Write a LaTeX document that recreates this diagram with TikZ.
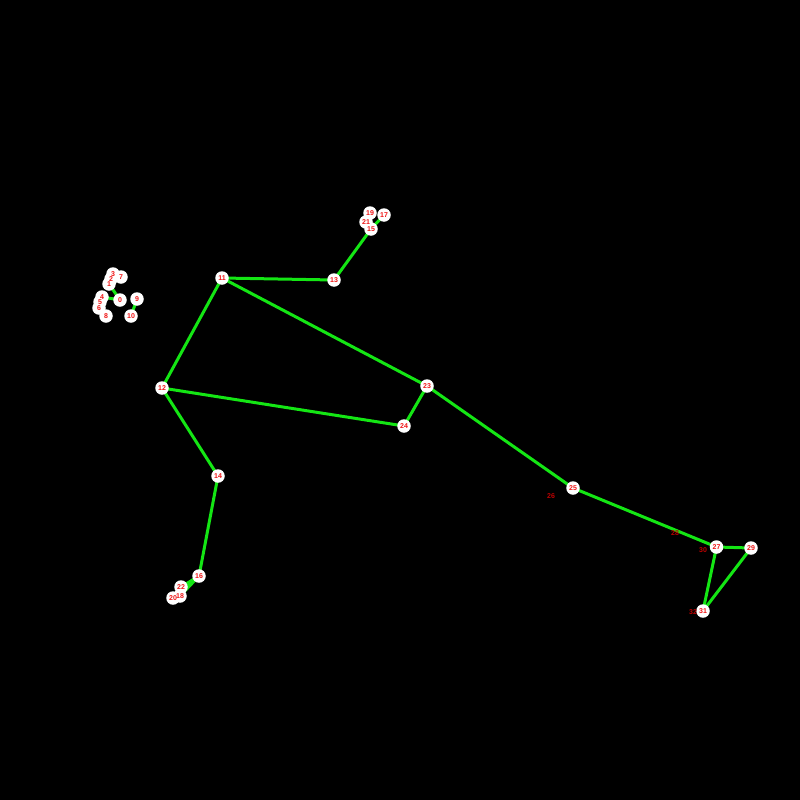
\documentclass[tikz,border=0pt]{standalone}
\usepackage{fontspec}
\setmainfont{Liberation Sans}
\usetikzlibrary{backgrounds}
\definecolor{limb}{RGB}{20,230,20}
\definecolor{lab}{RGB}{240,20,20}
\definecolor{dimlab}{RGB}{190,0,0}
\tikzset{
  disk/.style={circle,fill=white,minimum size=13.5pt,inner sep=0pt},
  kp/.style={inner sep=0pt,text=lab,font=\bfseries\fontsize{7}{8}\selectfont},
  kpdim/.style={inner sep=0pt,text=dimlab,font=\bfseries\fontsize{7}{8}\selectfont},
  limbline/.style={draw=limb,line width=3pt}
}
\begin{document}
\begin{tikzpicture}[x=1pt,y=-1pt]
\useasboundingbox (0,0) rectangle (800,800);
\foreach \i/\p in {0/{120,300},1/{109,284},2/{111,279},3/{113,274},4/{102,297},5/{100,302},6/{99,308},7/{121,277},8/{106,316},9/{137,299},10/{131,316},11/{222,278},12/{162,388},13/{334,280},14/{218,476},15/{371,229},16/{199,576},17/{384,215},18/{180,596},19/{370,213},20/{173,598},21/{366,222},22/{181,587},23/{427,386},24/{404,426},25/{573,488},27/{716.5,547},29/{751,548},31/{703,611}}
  {\node[disk,name=n\i] at (\p) {};}
\foreach \i/\p in {26/{551,496},28/{675,533},30/{703,550},32/{693,612}}
  {\coordinate (n\i) at (\p);}
\foreach \i in {0,...,25,27,29,31}
  {\node[kp,name=t\i] at (n\i) {\i};}
\foreach \i in {26,28,30,32}
  {\node[kpdim,name=t\i] at (n\i) {\i};}
\begin{scope}[on background layer]
\fill[black] (0,0) rectangle (800,800);
\path[limbline] (n0.center) -- (n1.center);
\path[limbline] (n0.center) -- (n4.center);
\path[limbline] (n9.center) -- (n10.center);
\path[limbline] (n11.center) -- (n12.center);
\path[limbline] (n11.center) -- (n13.center);
\path[limbline] (n13.center) -- (n15.center);
\path[limbline] (n15.center) -- (n17.center);
\path[limbline] (n15.center) -- (n19.center);
\path[limbline] (n15.center) -- (n21.center);
\path[limbline] (n12.center) -- (n14.center);
\path[limbline] (n14.center) -- (n16.center);
\path[limbline] (n16.center) -- (n18.center);
\path[limbline] (n16.center) -- (n20.center);
\path[limbline] (n16.center) -- (n22.center);
\path[limbline] (n11.center) -- (n23.center);
\path[limbline] (n12.center) -- (n24.center);
\path[limbline] (n23.center) -- (n24.center);
\path[limbline] (n23.center) -- (n25.center);
\path[limbline] (n25.center) -- (n27.center);
\path[limbline] (n27.center) -- (n29.center);
\path[limbline] (n27.center) -- (n31.center);
\path[limbline] (n29.center) -- (n31.center);
\end{scope}
\end{tikzpicture}
\end{document}
